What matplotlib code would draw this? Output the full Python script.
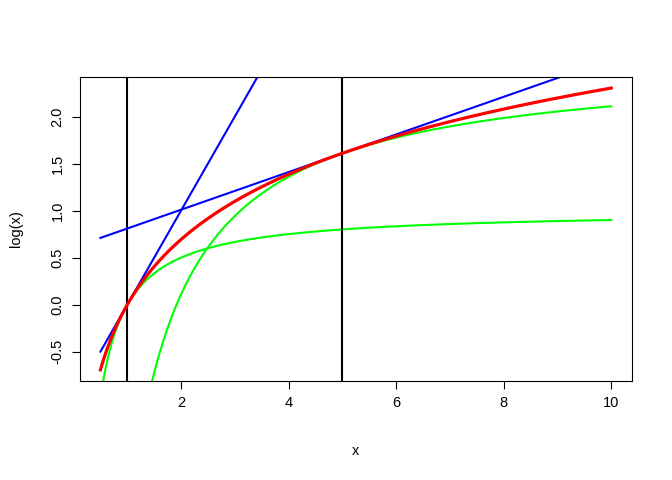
import numpy as np
import matplotlib
matplotlib.use("Agg")
import matplotlib.pyplot as plt

plt.rcParams['font.family'] = ['Liberation Sans', 'DejaVu Sans']

# data
x_range = [0.5, 10]
tangent_points = [1, 5]
x_ticks = [2, 4, 6, 8, 10]
y_ticks = [-0.5, 0.0, 0.5, 1.0, 1.5, 2.0]

x = np.linspace(x_range[0], x_range[1], 400)
y = np.log(x)

fig = plt.figure(figsize=(6.72, 4.8), dpi=100)
ax = fig.add_axes([0.119, 0.206, 0.821, 0.634])

ax.plot(x, y, color='#FF0000', lw=2.3, zorder=3)
for a in tangent_points:
    ax.axvline(a, color='black', lw=1.5, zorder=2)
    # tangent line
    ax.plot(x, np.log(a) + (x - a) / a, color='#0000FF', lw=1.5, zorder=2)
    # lower bound log(a) + 1 - a/x
    ax.plot(x, np.log(a) + 1 - a / x, color='#00FF00', lw=1.5, zorder=2)

pad_x = 0.04 * (x_range[1] - x_range[0])
ax.set_xlim(x_range[0] - pad_x, x_range[1] + pad_x)
ylo, yhi = y.min(), y.max()
pad_y = 0.04 * (yhi - ylo)
ax.set_ylim(ylo - pad_y, yhi + pad_y)

ax.set_xticks(x_ticks)
ax.set_xticklabels([str(t) for t in x_ticks])
ax.set_yticks(y_ticks)
ax.set_yticklabels([f"{t:.1f}" for t in y_ticks], rotation=90, va='center')
ax.tick_params(direction='out', length=6, width=0.8, labelsize=10.5, pad=5)
for s in ax.spines.values():
    s.set_linewidth(0.8)

ax.set_xlabel('x', fontsize=10.5, labelpad=24)
ax.set_ylabel('log(x)', fontsize=10.5, labelpad=20)

fig.savefig('out.png', dpi=100)
